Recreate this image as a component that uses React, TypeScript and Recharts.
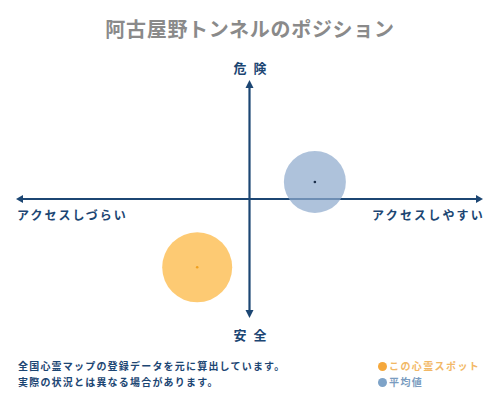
import React from 'react';
import { ScatterChart, Scatter, XAxis, YAxis, ReferenceLine } from 'recharts';

const spotPoint = [{ x: -0.224, y: -0.574 }];
const averagePoint = [{ x: 0.28, y: 0.143 }];
const axisDomain = [-1, 1];
const titleText = '阿古屋野トンネルのポジション';
const topLabel = '危 険';
const bottomLabel = '安 全';
const leftLabel = 'アクセスしづらい';
const rightLabel = 'アクセスしやすい';
const noteLines = ['全国心霊マップの登録データを元に算出しています。', '実際の状況とは異なる場合があります。'];
const legendItems = ['この心霊スポット', '平均値'];

const NAVY = '#1c4673';
const FONT = '"Noto Sans CJK JP", "Noto Sans", sans-serif';

const Bubble = (color: string, dot: string, r: number) => (props: any) => {
  const { cx, cy } = props;
  return (
    <g>
      <circle cx={cx} cy={cy} r={r} fill={color} />
      <circle cx={cx} cy={cy} r={1.3} fill={dot} />
    </g>
  );
};

const HArrow = (props: any) => {
  const { x1, y1, x2, y2 } = props;
  const l = Math.min(x1, x2);
  const r = Math.max(x1, x2);
  return (
    <g>
      <line x1={l + 4} y1={y1} x2={r - 4} y2={y2} stroke={NAVY} strokeWidth={2.2} />
      <polygon points={`${l},${y1} ${l + 7},${y1 - 4} ${l + 7},${y1 + 4}`} fill={NAVY} />
      <polygon points={`${r},${y1} ${r - 7},${y1 - 4} ${r - 7},${y1 + 4}`} fill={NAVY} />
    </g>
  );
};

const VArrow = (props: any) => {
  const { x1, y1, x2, y2 } = props;
  const t = Math.min(y1, y2);
  const b = Math.max(y1, y2);
  return (
    <g>
      <line x1={x1} y1={t + 4} x2={x2} y2={b - 4} stroke={NAVY} strokeWidth={2.2} />
      <polygon points={`${x1},${t} ${x1 - 4},${t + 8} ${x1 + 4},${t + 8}`} fill={NAVY} />
      <polygon points={`${x1},${b} ${x1 - 4},${b - 8} ${x1 + 4},${b - 8}`} fill={NAVY} />
    </g>
  );
};

const abs = (extra: React.CSSProperties): React.CSSProperties => ({
  position: 'absolute',
  fontFamily: FONT,
  whiteSpace: 'nowrap',
  lineHeight: 1,
  ...extra,
});

export default function App() {
  return (
    <div style={{ position: 'absolute', left: 0, top: 0, width: 500, height: 400, background: '#fff' }}>
      <ScatterChart width={500} height={400} margin={{ top: 80, right: 17, bottom: 82, left: 16 }}>
        <XAxis type="number" dataKey="x" domain={axisDomain} hide />
        <YAxis type="number" dataKey="y" domain={axisDomain} hide />
        <ReferenceLine
          segment={[{ x: axisDomain[0], y: 0 }, { x: axisDomain[1], y: 0 }]}
          shape={HArrow}
          ifOverflow="visible"
        />
        <Scatter data={averagePoint} isAnimationActive={false} shape={Bubble('rgba(143,171,205,0.72)', '#1c2f4a', 31)} />
        <Scatter data={spotPoint} isAnimationActive={false} shape={Bubble('rgba(253,193,90,0.85)', '#f0a020', 35)} />
        <ReferenceLine
          segment={[{ x: 0, y: axisDomain[0] }, { x: 0, y: axisDomain[1] }]}
          shape={VArrow}
          ifOverflow="visible"
        />
      </ScatterChart>

      <div style={abs({ left: 0, width: 500, top: 19, textAlign: 'center', fontSize: 20, fontWeight: 700, color: '#8a8a8a', letterSpacing: 0.7 })}>
        {titleText}
      </div>
      <div style={abs({ left: 200, width: 100, top: 61, textAlign: 'center', fontSize: 13, fontWeight: 700, color: NAVY, wordSpacing: 4 })}>
        {topLabel}
      </div>
      <div style={abs({ left: 200, width: 100, top: 328, textAlign: 'center', fontSize: 13, fontWeight: 700, color: NAVY, wordSpacing: 4 })}>
        {bottomLabel}
      </div>
      <div style={abs({ left: 17, top: 209, fontSize: 12, fontWeight: 700, color: NAVY, letterSpacing: 2 })}>
        {leftLabel}
      </div>
      <div style={abs({ right: 15, top: 209, fontSize: 12, fontWeight: 700, color: NAVY, letterSpacing: 2.2 })}>
        {rightLabel}
      </div>
      {noteLines.map((t, i) => (
        <div key={t} style={abs({ left: 18, top: 361 + i * 16, fontSize: 10, fontWeight: 700, color: NAVY, letterSpacing: 1.2 })}>
          {t}
        </div>
      ))}
      {legendItems.map((t, i) => (
        <div key={t} style={abs({ left: 378, top: 361 + i * 16, fontSize: 10, fontWeight: 700, color: i === 0 ? '#f2b866' : '#7a9cc0', letterSpacing: 1.4, display: 'flex', alignItems: 'center' })}>
          <span style={{ display: 'inline-block', width: 9, height: 9, borderRadius: 5, background: i === 0 ? '#f5a83c' : '#7ea3c8', marginRight: 2 }} />
          {t}
        </div>
      ))}
    </div>
  );
}
